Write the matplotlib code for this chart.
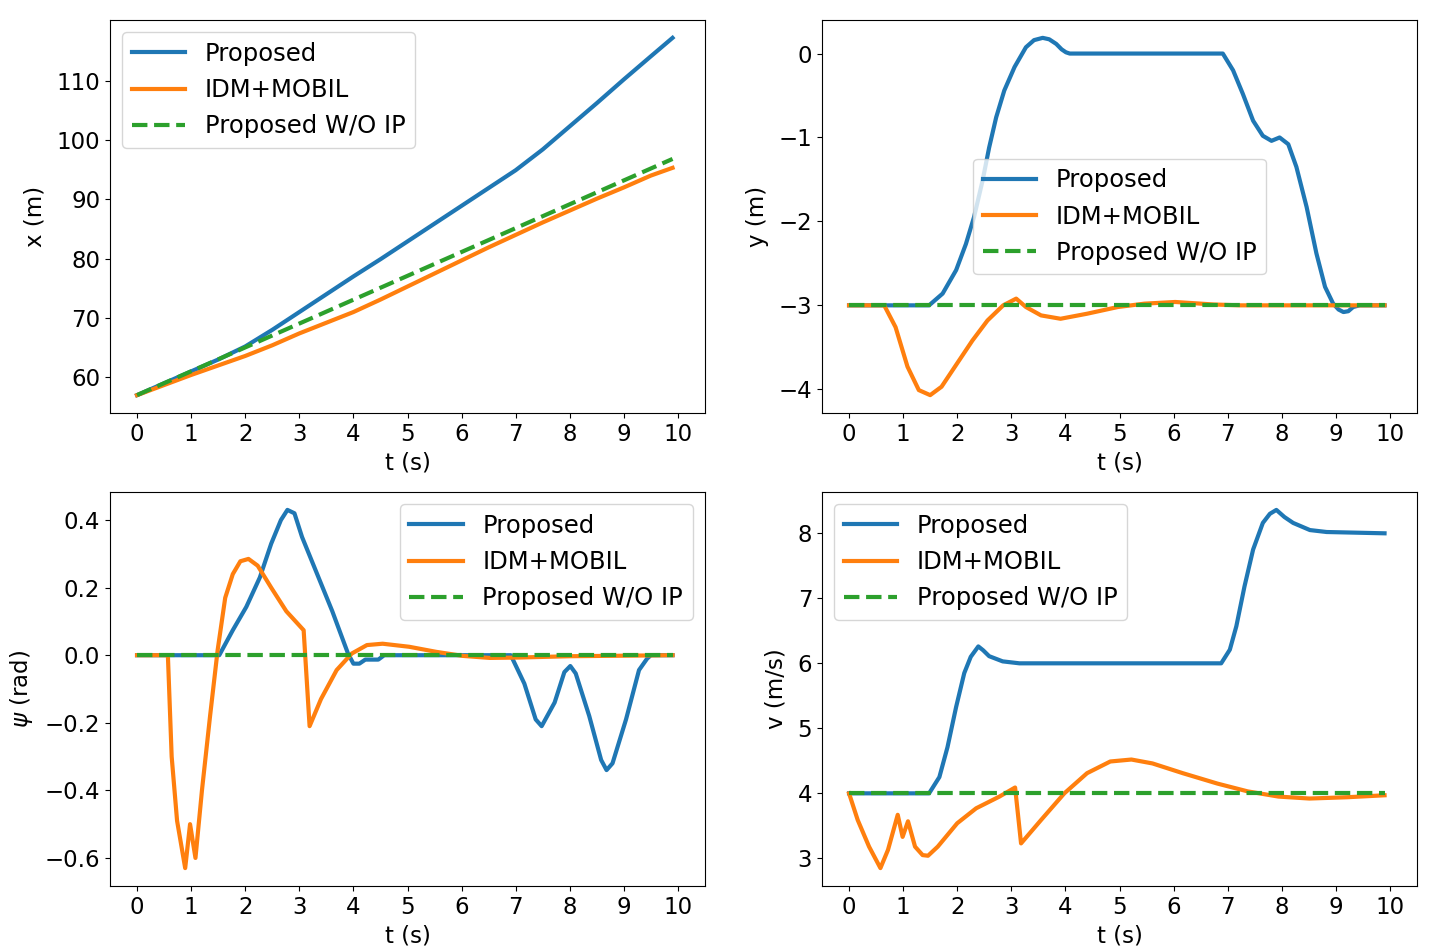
import matplotlib
matplotlib.use("Agg")
import matplotlib.pyplot as plt

# ---------------- data ----------------
labels = ["Proposed", "IDM+MOBIL", "Proposed W/O IP"]

# x(t)
t_x_prop = [0, 0.5, 1, 1.5, 2, 2.5, 3, 3.5, 4, 4.5, 5, 5.5, 6, 6.5, 7, 7.5, 8, 8.5, 9, 9.5, 9.9]
x_prop = [57, 59, 61, 63, 65.2, 68.0, 71.0, 74.0, 77.0, 79.9, 82.9, 85.9, 88.9, 91.9, 94.9,
          98.4, 102.3, 106.2, 110.2, 114.1, 117.2]
t_x_idm = [0, 0.5, 1, 1.5, 2, 2.5, 3, 3.5, 4, 4.5, 5, 5.5, 6, 6.5, 7, 7.5, 8, 8.5, 9, 9.5, 9.9]
x_idm = [57, 58.7, 60.4, 62.0, 63.6, 65.4, 67.4, 69.2, 71.0, 73.1, 75.3, 77.5, 79.7, 81.9,
         84.0, 86.1, 88.1, 90.1, 92.0, 94.0, 95.3]
t_x_noip = [0, 9.9]
x_noip = [57, 96.8]

# y(t)
t_y_prop = [0, 1.48, 1.73, 1.98, 2.16, 2.31, 2.47, 2.59, 2.72, 2.87, 3.06, 3.27, 3.42, 3.58,
            3.70, 3.83, 3.93, 4.01, 4.08, 6.91, 7.10, 7.28, 7.47, 7.65, 7.81, 7.96, 8.12,
            8.27, 8.46, 8.64, 8.80, 8.95, 9.05, 9.14, 9.23, 9.32, 9.44, 9.9]
y_prop = [-3, -3, -2.86, -2.58, -2.27, -1.95, -1.51, -1.12, -0.76, -0.44, -0.16, 0.075, 0.16,
          0.187, 0.17, 0.115, 0.05, 0.015, 0.0, 0.0, -0.2, -0.48, -0.8, -0.98, -1.04, -1.0,
          -1.08, -1.35, -1.83, -2.38, -2.78, -2.98, -3.05, -3.08, -3.07, -3.02, -3.0, -3.0]
t_y_idm = [0, 0.65, 0.86, 1.08, 1.29, 1.50, 1.71, 2.0, 2.28, 2.56, 2.85, 3.09, 3.27, 3.55,
           3.91, 4.4, 4.97, 5.46, 6.03, 6.74, 7.23, 9.9]
y_idm = [-3, -3, -3.26, -3.73, -4.01, -4.07, -3.97, -3.69, -3.42, -3.18, -3.0, -2.92, -3.02,
         -3.12, -3.16, -3.10, -3.02, -2.98, -2.96, -2.99, -3.0, -3.0]
t_y_noip = [0, 9.9]
y_noip = [-3, -3]

# psi(t)
t_psi_prop = [0, 1.52, 1.77, 2.02, 2.27, 2.48, 2.66, 2.78, 2.91, 3.05, 3.33, 3.61, 3.90, 4.0,
              4.11, 4.22, 4.46, 4.57, 6.91, 7.16, 7.37, 7.48, 7.72, 7.90, 8.01, 8.11, 8.36,
              8.58, 8.68, 8.79, 9.04, 9.28, 9.43, 9.5, 9.9]
psi_prop = [0, 0, 0.074, 0.143, 0.23, 0.33, 0.40, 0.43, 0.42, 0.35, 0.24, 0.13, 0.005, -0.025,
            -0.025, -0.013, -0.013, 0, 0, -0.084, -0.19, -0.21, -0.14, -0.05, -0.032, -0.054,
            -0.18, -0.31, -0.34, -0.32, -0.19, -0.044, -0.01, 0, 0]
t_psi_idm = [0, 0.57, 0.64, 0.74, 0.89, 0.98, 1.08, 1.2, 1.35, 1.49, 1.63, 1.77, 1.91, 2.06,
             2.23, 2.48, 2.76, 3.08, 3.19, 3.40, 3.69, 3.97, 4.25, 4.54, 5.03, 5.53, 6.02,
             6.52, 7.02, 8.0, 9.9]
psi_idm = [0, 0, -0.30, -0.49, -0.63, -0.50, -0.60, -0.40, -0.18, 0.015, 0.17, 0.24, 0.278,
           0.285, 0.265, 0.20, 0.13, 0.074, -0.21, -0.13, -0.044, 0.005, 0.03, 0.034, 0.025,
           0.01, -0.002, -0.008, -0.007, -0.003, 0]
t_psi_noip = [0, 9.9]
psi_noip = [0, 0]

# v(t)
t_v_prop = [0, 1.48, 1.67, 1.82, 1.98, 2.13, 2.25, 2.39, 2.48, 2.59, 2.84, 3.15, 6.88, 7.04,
            7.16, 7.31, 7.47, 7.65, 7.78, 7.90, 8.05, 8.21, 8.52, 8.83, 9.9]
v_prop = [4, 4, 4.25, 4.71, 5.33, 5.85, 6.1, 6.26, 6.2, 6.11, 6.03, 6.0, 6.0, 6.21, 6.57,
          7.18, 7.75, 8.16, 8.3, 8.36, 8.25, 8.16, 8.05, 8.02, 8.0]
t_v_idm = [0, 0.16, 0.37, 0.58, 0.72, 0.90, 0.99, 1.09, 1.22, 1.36, 1.46, 1.64, 2.0, 2.35,
           2.78, 3.07, 3.18, 3.55, 3.98, 4.4, 4.83, 5.22, 5.61, 6.17, 6.81, 7.37, 7.94, 8.51,
           9.21, 9.9]
v_idm = [4.0, 3.59, 3.18, 2.85, 3.13, 3.67, 3.33, 3.57, 3.18, 3.05, 3.04, 3.18, 3.54, 3.77,
         3.95, 4.09, 3.23, 3.59, 4.0, 4.31, 4.49, 4.52, 4.46, 4.31, 4.15, 4.03, 3.95, 3.92,
         3.94, 3.97]
t_v_noip = [0, 9.9]
v_noip = [4, 4]

xticks = list(range(0, 11))

# ---------------- plotting ----------------
FS = 16.5
LFS = 17.5
plt.rcParams.update({"font.size": FS, "font.family": "DejaVu Sans"})

fig = plt.figure(figsize=(14.39, 9.52), dpi=100)
W, H = 1439, 952


def add_ax(l, r, t, b):
    return fig.add_axes([l / W, 1 - b / H, (r - l) / W, (b - t) / H])


ax1 = add_ax(110, 705, 20, 413)
ax2 = add_ax(822, 1417, 20, 413)
ax3 = add_ax(110, 705, 492, 886)
ax4 = add_ax(822, 1417, 492, 886)

panels = [
    (ax1, (t_x_prop, x_prop), (t_x_idm, x_idm), (t_x_noip, x_noip), "x (m)", "upper left"),
    (ax2, (t_y_prop, y_prop), (t_y_idm, y_idm), (t_y_noip, y_noip), "y (m)", "center"),
    (ax3, (t_psi_prop, psi_prop), (t_psi_idm, psi_idm), (t_psi_noip, psi_noip),
     r"$\psi$ (rad)", "upper right"),
    (ax4, (t_v_prop, v_prop), (t_v_idm, v_idm), (t_v_noip, v_noip), "v (m/s)", "upper left"),
]

for ax, p, i, n, ylab, loc in panels:
    ax.plot(p[0], p[1], color="#1f77b4", lw=3, label=labels[0])
    ax.plot(i[0], i[1], color="#ff7f0e", lw=3, label=labels[1])
    ax.plot(n[0], n[1], color="#2ca02c", lw=3, ls="--", label=labels[2])
    ax.set_xticks(xticks)
    ax.set_xlim(-0.5, 10.5)
    ax.set_xlabel("t (s)", labelpad=4)
    ax.set_ylabel(ylab, labelpad=7)
    ax.legend(loc=loc, fontsize=LFS, handlelength=2.2)

ax1.set_yticks([60, 70, 80, 90, 100, 110])
ax2.set_yticks([0, -1, -2, -3, -4])
ax3.set_yticks([-0.6, -0.4, -0.2, 0.0, 0.2, 0.4])
ax4.set_yticks([3, 4, 5, 6, 7, 8])

fig.savefig("out.png", dpi=100)
